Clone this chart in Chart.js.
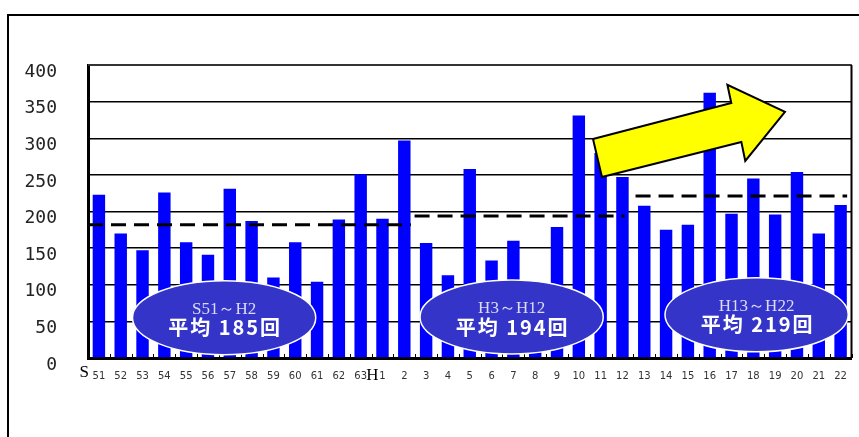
<!DOCTYPE html>
<html>
<head>
<meta charset="utf-8">
<script src="https://cdn.jsdelivr.net/npm/chart.js@4.4.0/dist/chart.umd.min.js"></script>
<style>
  body { margin: 0; background: #fff; }
  #chart { display: block; }
</style>
</head>
<body>
<canvas id="chart" width="859" height="437"></canvas>
<script>
const yearLabels = ['51', '52', '53', '54', '55', '56', '57', '58', '59', '60', '61', '62', '63',
    '1', '2', '3', '4', '5', '6', '7', '8', '9', '10', '11', '12',
    '13', '14', '15', '16', '17', '18', '19', '20', '21', '22'];
const counts = [223, 170, 147, 226, 158, 141, 231, 187, 110, 158, 104, 189, 251,
    190, 297, 157, 113, 258, 133, 160, 98, 179, 331, 280, 247,
    208, 175, 182, 362, 197, 245, 196, 254, 170, 209];
const yTicks = [0, 50, 100, 150, 200, 250, 300, 350, 400];

// period averages: first/last category index and level of the dashed line
const avgFrom = [-0.5, 14.47, 24.6];
const avgTo = [14.3, 24.1, 34.3];
const avgLevel = [182, 194, 221];

// ellipse labels
const periodNames = ['S51～H2', 'H3～H12', 'H13～H22'];
const periodTexts = ['平均 185回', '平均 194回', '平均 219回'];
const ovalX = [5.74, 18.92, 30.15];
const ovalY = [55, 56, 59];

// arrow outline in (category index, value)
const arrowX = [22.65, 28.99, 28.81, 31.45, 29.63, 29.45, 23.06];
const arrowY = [299, 348, 373, 336, 269, 295, 247];

const extras = {
    id: 'extras',
    beforeDraw(chart) {
        const ctx = chart.ctx;
        ctx.save();
        ctx.strokeStyle = '#000';
        ctx.lineWidth = 2;
        ctx.beginPath();
        ctx.moveTo(8, 437);
        ctx.lineTo(8, 15);
        ctx.lineTo(859, 15);
        ctx.stroke();
        ctx.restore();
    },
    afterDatasetsDraw(chart) {
        const ctx = chart.ctx;
        const x = chart.scales.x;
        const y = chart.scales.y;
        const area = chart.chartArea;
        ctx.save();

        // frame top / right
        ctx.strokeStyle = '#333';
        ctx.lineWidth = 2;
        ctx.beginPath();
        ctx.moveTo(area.left, area.top);
        ctx.lineTo(area.right, area.top);
        ctx.stroke();
        ctx.strokeStyle = '#000';
        ctx.beginPath();
        ctx.moveTo(area.right, area.top);
        ctx.lineTo(area.right, area.bottom);
        ctx.stroke();

        // small inner ticks between categories
        ctx.lineWidth = 1;
        for (let i = 0; i <= yearLabels.length; i++) {
            const px = Math.round(x.getPixelForValue(i - 0.5)) + 0.5;
            ctx.beginPath();
            ctx.moveTo(px, area.bottom);
            ctx.lineTo(px, area.bottom - 4);
            ctx.stroke();
        }

        // dashed average lines
        ctx.lineWidth = 3;
        ctx.setLineDash([15, 8]);
        for (let i = 0; i < avgLevel.length; i++) {
            const py = y.getPixelForValue(avgLevel[i]);
            ctx.beginPath();
            ctx.moveTo(x.getPixelForValue(avgFrom[i]), py);
            ctx.lineTo(x.getPixelForValue(avgTo[i]), py);
            ctx.stroke();
        }
        ctx.setLineDash([]);

        // ellipses
        const step = x.getPixelForValue(1) - x.getPixelForValue(0);
        for (let i = 0; i < periodNames.length; i++) {
            const cx = x.getPixelForValue(ovalX[i]);
            const cy = y.getPixelForValue(ovalY[i]);
            ctx.beginPath();
            ctx.ellipse(cx, cy, step * 4.2, 37, 0, 0, Math.PI * 2);
            ctx.fillStyle = '#3434c8';
            ctx.fill();
            ctx.strokeStyle = '#fff';
            ctx.lineWidth = 1.5;
            ctx.stroke();
            ctx.textAlign = 'center';
            ctx.textBaseline = 'middle';
            ctx.fillStyle = '#dcdcf4';
            ctx.font = '17px "Liberation Serif"';
            ctx.fillText(periodNames[i], cx, cy - 8);
            ctx.fillStyle = '#fff';
            ctx.font = 'bold 20px "Noto Sans CJK JP"';
            ctx.letterSpacing = '2px';
            ctx.fillText(periodTexts[i], cx + 1, cy + 10);
            ctx.letterSpacing = '0px';
        }

        // arrow
        ctx.beginPath();
        for (let i = 0; i < arrowX.length; i++) {
            const px = x.getPixelForValue(arrowX[i]);
            const py = y.getPixelForValue(arrowY[i]);
            if (i === 0) ctx.moveTo(px, py); else ctx.lineTo(px, py);
        }
        ctx.closePath();
        ctx.fillStyle = '#ffff00';
        ctx.fill();
        ctx.strokeStyle = '#000';
        ctx.lineWidth = 2;
        ctx.lineJoin = 'miter';
        ctx.stroke();

        // era letters
        ctx.fillStyle = '#000';
        ctx.font = '17px "Liberation Serif"';
        ctx.textAlign = 'right';
        ctx.textBaseline = 'alphabetic';
        ctx.fillText('S', x.getPixelForValue(0) - 10, area.bottom + 19);
        ctx.fillText('H', x.getPixelForValue(13) - 4, area.bottom + 22);
        ctx.restore();
    }
};

new Chart(document.getElementById('chart'), {
    type: 'bar',
    data: {
        labels: yearLabels,
        datasets: [{
            data: counts,
            backgroundColor: '#0000ff',
            categoryPercentage: 1,
            barPercentage: 0.57
        }]
    },
    options: {
        responsive: false,
        animation: false,
        layout: { padding: { left: 0, right: 3, top: 65, bottom: 49 } },
        plugins: {
            legend: { display: false },
            tooltip: { enabled: false }
        },
        scales: {
            x: {
                grid: { display: true, drawOnChartArea: false, drawTicks: false, color: 'rgba(0,0,0,0)' },
                border: { color: '#000', width: 3 },
                ticks: {
                    font: { family: 'DejaVu Sans', size: 10 },
                    color: '#333',
                    padding: 12,
                    maxRotation: 0,
                    autoSkip: false
                },
                afterFit(scale) { scale.height = 30; }
            },
            y: {
                min: 0,
                max: 400,
                afterBuildTicks(scale) { scale.ticks = yTicks.map(v => ({ value: v })); },
                grid: { color: '#000', lineWidth: 1.5, drawTicks: false },
                border: { color: '#000', width: 3 },
                ticks: {
                    font: { family: 'DejaVu Sans Mono', size: 18 },
                    color: '#222',
                    padding: 31,
                    labelOffset: 7
                },
                afterFit(scale) { scale.width = 88; }
            }
        }
    },
    plugins: [extras]
});
</script>
</body>
</html>
